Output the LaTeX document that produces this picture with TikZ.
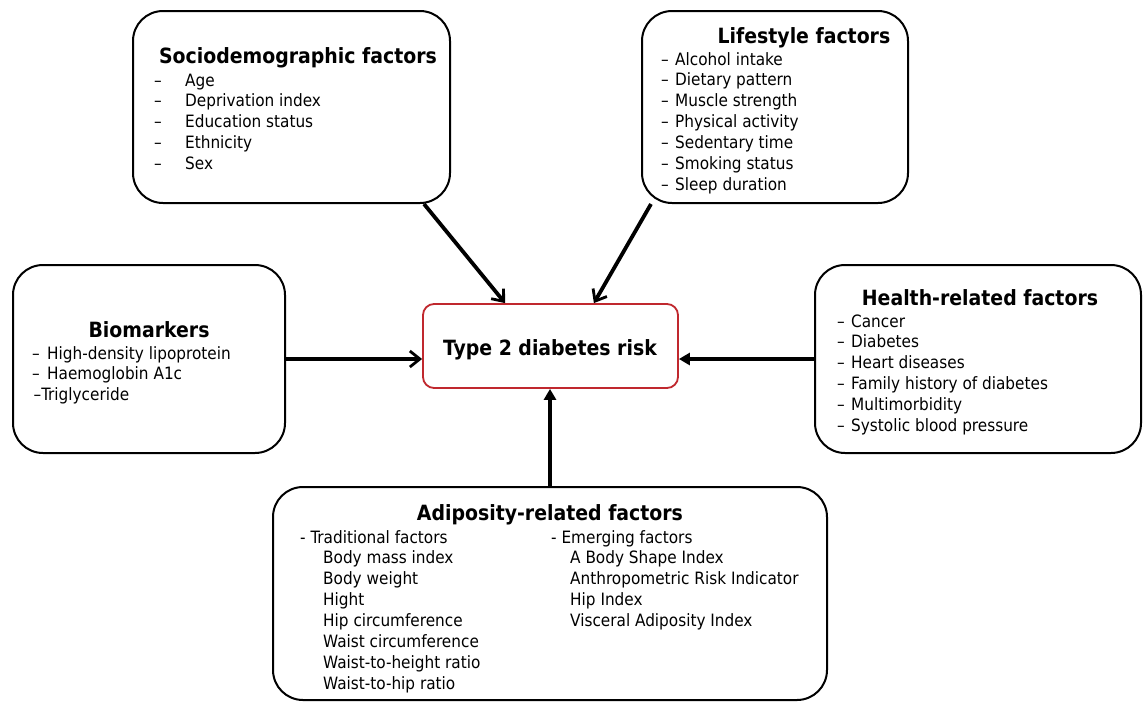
\documentclass[tikz,border=0pt]{standalone}
\usepackage{fontspec}
\setmainfont{DejaVu Sans Condensed}
\usetikzlibrary{arrows.meta,calc}
\definecolor{riskred}{HTML}{C0282E}
% one bullet line: dash, then the item text starting #1 after the dash
\newcommand\dashline[2]{\makebox[#1][l]{–}#2}
\begin{document}
\begin{tikzpicture}[x=1pt,y=-1pt,
  factorbox/.style={draw=black, line width=2pt, rounded corners=30pt, inner sep=0pt},
  riskbox/.style={draw=riskred, line width=1.8pt, rounded corners=11pt, fill=white, inner sep=0pt},
  heading/.style={font=\fontsize{21}{25}\selectfont\bfseries, anchor=base, inner sep=0pt},
  itemlist/.style={font=\fontsize{17}{20.9}\selectfont, anchor=base west, inner sep=0pt},
  barbarrow/.style={line width=3.8pt, -{Straight Barb[length=10pt,width=16pt,line width=2.8pt]}},
  headarrow/.style={line width=3.8pt, -{Triangle[length=11pt,width=12pt]}}
]
\useasboundingbox (0,0) rectangle (1143,702);

% ---- boxes ----
\node[factorbox, minimum width=317pt, minimum height=192pt] (socio) at (291.5,107) {};
\node[factorbox, minimum width=266pt, minimum height=192pt] (life) at (775,107) {};
\node[factorbox, minimum width=272pt, minimum height=188pt] (bio) at (149,359) {};
\node[factorbox, minimum width=326pt, minimum height=188pt] (health) at (978,359) {};
\node[factorbox, minimum width=554pt, minimum height=213pt] (adip) at (550,593.5) {};
\node[riskbox, minimum width=255pt, minimum height=84pt] (risk) at (550.5,346) {};

% ---- texts ----
\node[heading] (riskt) at (550,355) {Type 2 diabetes risk};

\node[heading] (sociot) at (298,63) {Sociodemographic factors};
\node[itemlist] (socioi) at (154,86) {\begin{tabular}[t]{@{}l@{}}
\dashline{31pt}{Age}\\
\dashline{31pt}{Deprivation index}\\
\dashline{31pt}{Education status}\\
\dashline{31pt}{Ethnicity}\\
\dashline{31pt}{Sex}
\end{tabular}};

\node[heading] (lifet) at (804,43) {Lifestyle factors};
\node[itemlist] (lifei) at (661,65) {\begin{tabular}[t]{@{}l@{}}
\dashline{14pt}{Alcohol intake}\\
\dashline{14pt}{Dietary pattern}\\
\dashline{14pt}{Muscle strength}\\
\dashline{14pt}{Physical activity}\\
\dashline{14pt}{Sedentary time}\\
\dashline{14pt}{Smoking status}\\
\dashline{14pt}{Sleep duration}
\end{tabular}};

\node[heading] (biot) at (149,337) {Biomarkers};
\node[itemlist] (bioi) at (32,359) {\begin{tabular}[t]{@{}l@{}}
\dashline{15pt}{High-density lipoprotein}\\
\dashline{15pt}{Haemoglobin A1c}\\
\hspace*{1.5pt}–Triglyceride
\end{tabular}};

\node[heading] (healtht) at (980,305) {Health-related factors};
\node[itemlist] (healthi) at (837,327) {\begin{tabular}[t]{@{}l@{}}
\dashline{14pt}{Cancer}\\
\dashline{14pt}{Diabetes}\\
\dashline{14pt}{Heart diseases}\\
\dashline{14pt}{Family history of diabetes}\\
\dashline{14pt}{Multimorbidity}\\
\dashline{14pt}{Systolic blood pressure}
\end{tabular}};

\node[heading] (adipt) at (550,520) {Adiposity-related factors};
\node[itemlist] (adipl) at (300,543) {\begin{tabular}[t]{@{}l@{}}
- Traditional factors\\
\hspace*{23pt}Body mass index\\
\hspace*{23pt}Body weight\\
\hspace*{23pt}Hight\\
\hspace*{23pt}Hip circumference\\
\hspace*{23pt}Waist circumference\\
\hspace*{23pt}Waist-to-height ratio\\
\hspace*{23pt}Waist-to-hip ratio
\end{tabular}};
\node[itemlist] (adipr) at (551,543) {\begin{tabular}[t]{@{}l@{}}
- Emerging factors\\
\hspace*{19pt}A Body Shape Index\\
\hspace*{19pt}Anthropometric Risk Indicator\\
\hspace*{19pt}Hip Index\\
\hspace*{19pt}Visceral Adiposity Index
\end{tabular}};

% ---- connectors ----
\draw[barbarrow] ([xshift=-27pt]socio.south east) -- ([xshift=83pt]risk.north west);
\draw[barbarrow] ([xshift=10pt]life.south west) -- ([xshift=-85pt]risk.north east);
\draw[barbarrow] (bio.east) -- (bio.east -| risk.west);
\draw[headarrow] (health.west) -- (health.west -| risk.east);
\draw[headarrow] (adip.north) -- (adip.north |- risk.south);
\end{tikzpicture}
\end{document}
